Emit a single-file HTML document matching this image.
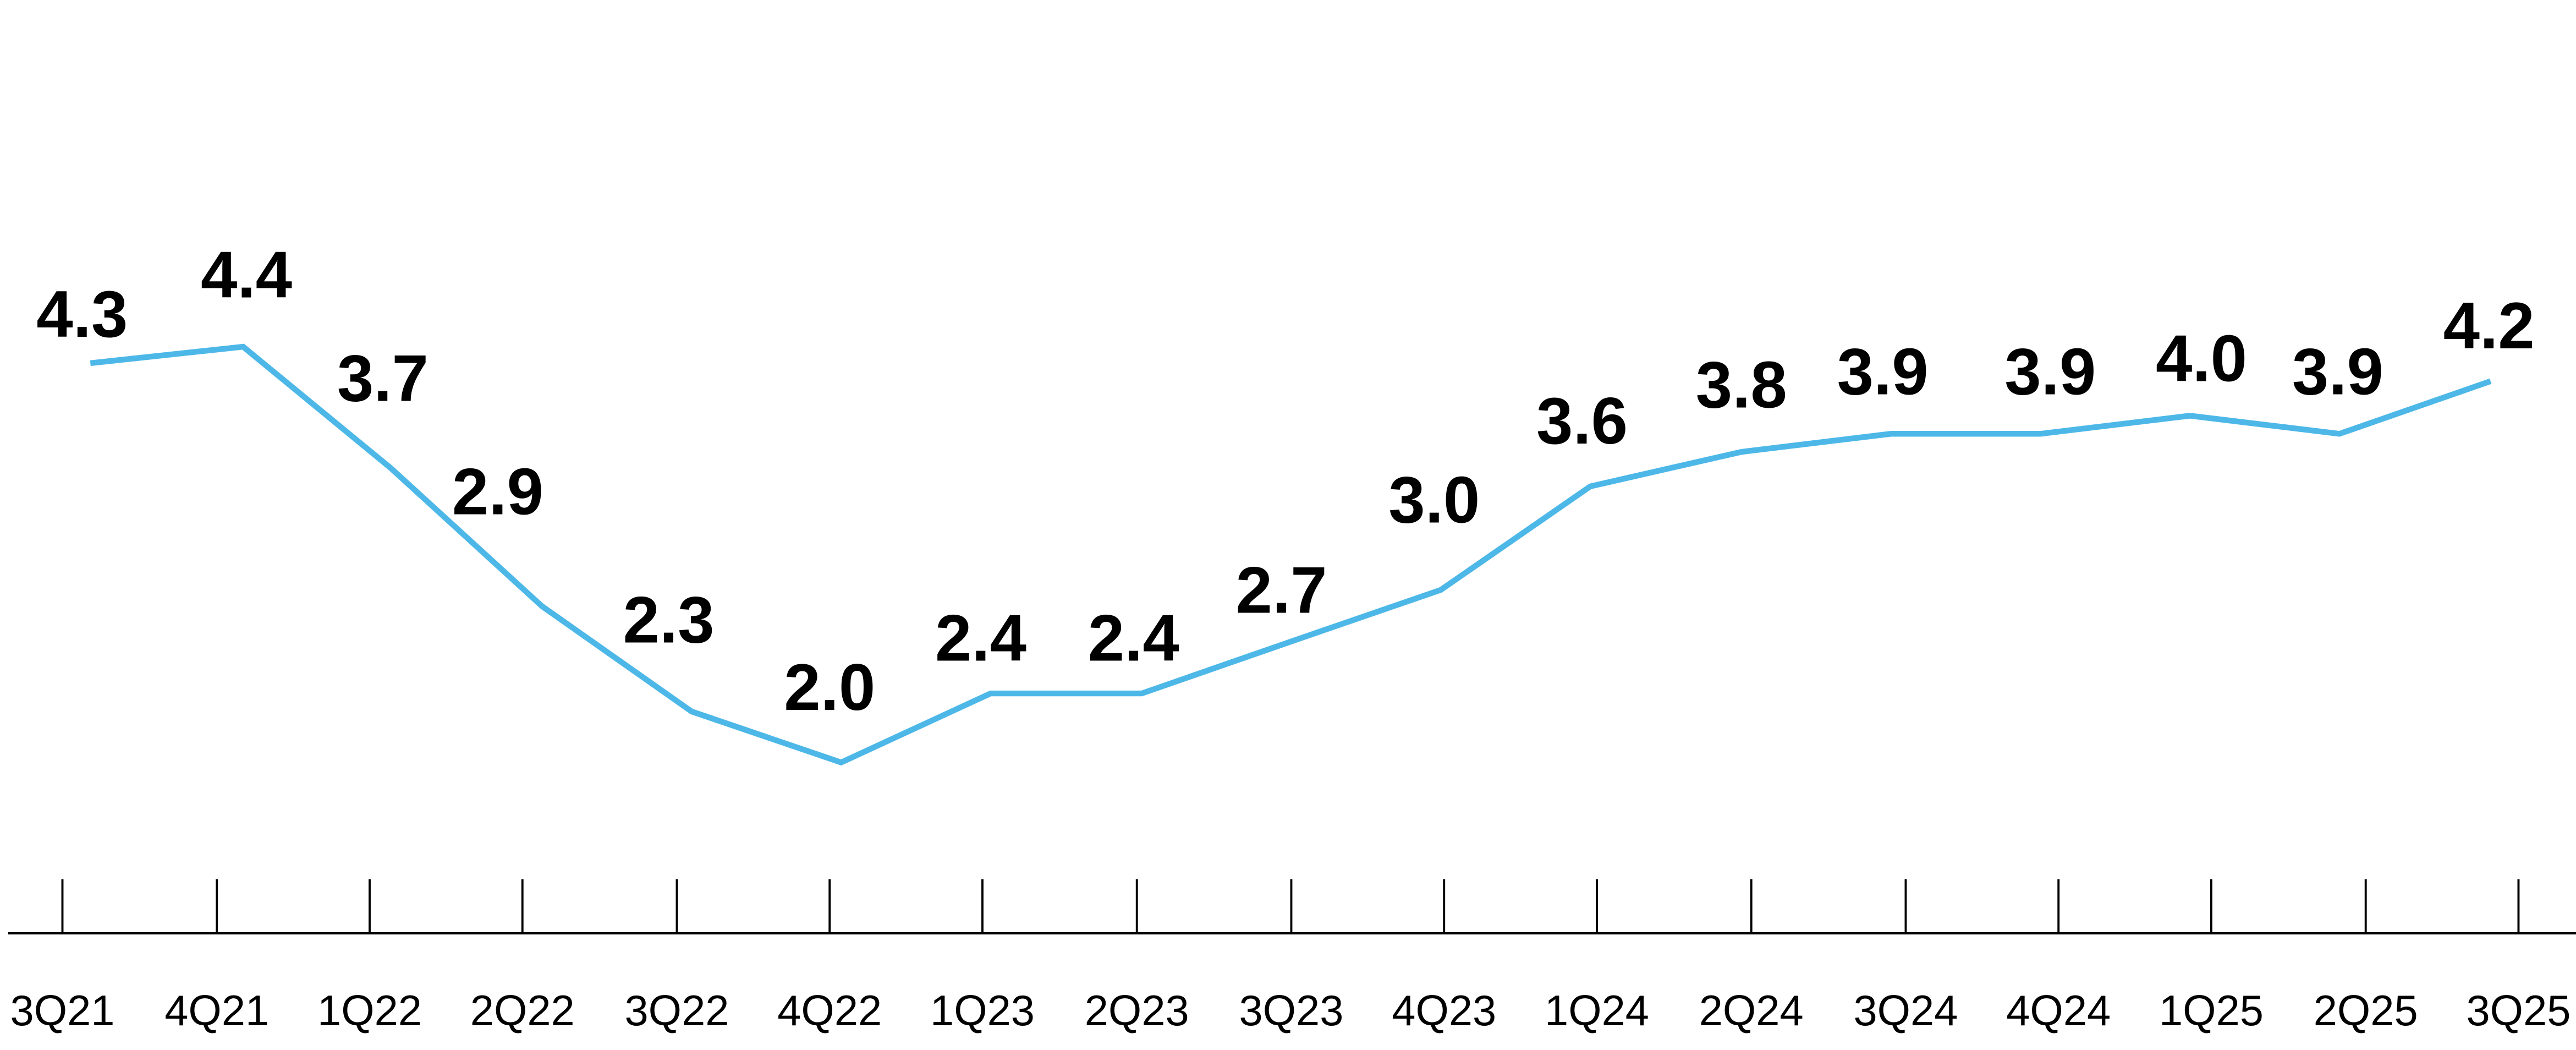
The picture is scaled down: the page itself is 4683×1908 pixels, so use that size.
<!DOCTYPE html>
<html><head><meta charset="utf-8"><style>html,body{margin:0;padding:0;background:#fff}svg{display:block}</style></head>
<body>
<svg width="4683" height="1908" viewBox="0 0 1568 639" preserveAspectRatio="none" xmlns="http://www.w3.org/2000/svg">
<rect width="1568" height="639" fill="#fff"/>
<polyline fill="none" stroke="#4db8e8" stroke-width="3.5" stroke-linejoin="miter" points="55,221 148,211 238,285 330,369 421,433 512,464 603,422 695,422 787,390 877,359 968,296 1060,275 1151,264 1242,264 1333,253 1424,264 1516,232"/>
<line x1="5" y1="568" x2="1568" y2="568" stroke="#000" stroke-width="1.3"/>
<g stroke="#000" stroke-width="1.3">
<line x1="38" y1="535" x2="38" y2="568"/><line x1="132" y1="535" x2="132" y2="568"/><line x1="225" y1="535" x2="225" y2="568"/><line x1="318" y1="535" x2="318" y2="568"/><line x1="412" y1="535" x2="412" y2="568"/><line x1="505" y1="535" x2="505" y2="568"/><line x1="598" y1="535" x2="598" y2="568"/><line x1="692" y1="535" x2="692" y2="568"/><line x1="786" y1="535" x2="786" y2="568"/><line x1="879" y1="535" x2="879" y2="568"/><line x1="972" y1="535" x2="972" y2="568"/><line x1="1066" y1="535" x2="1066" y2="568"/><line x1="1160" y1="535" x2="1160" y2="568"/><line x1="1253" y1="535" x2="1253" y2="568"/><line x1="1346" y1="535" x2="1346" y2="568"/><line x1="1440" y1="535" x2="1440" y2="568"/><line x1="1533" y1="535" x2="1533" y2="568"/>
</g>
<g font-family="Liberation Sans, sans-serif" font-size="26" text-anchor="middle" fill="#000">
<text x="38" y="624">3Q21</text><text x="132" y="624">4Q21</text><text x="225" y="624">1Q22</text><text x="318" y="624">2Q22</text><text x="412" y="624">3Q22</text><text x="505" y="624">4Q22</text><text x="598" y="624">1Q23</text><text x="692" y="624">2Q23</text><text x="786" y="624">3Q23</text><text x="879" y="624">4Q23</text><text x="972" y="624">1Q24</text><text x="1066" y="624">2Q24</text><text x="1160" y="624">3Q24</text><text x="1253" y="624">4Q24</text><text x="1346" y="624">1Q25</text><text x="1440" y="624">2Q25</text><text x="1533" y="624">3Q25</text>
</g>
<g font-family="Liberation Sans, sans-serif" font-size="40" font-weight="bold" text-anchor="middle" fill="#000">
<text x="50" y="205">4.3</text><text x="150" y="181">4.4</text><text x="233" y="244">3.7</text><text x="303" y="313">2.9</text><text x="407" y="391">2.3</text><text x="505" y="432">2.0</text><text x="597" y="402">2.4</text><text x="690" y="402">2.4</text><text x="780" y="373">2.7</text><text x="873" y="318">3.0</text><text x="963" y="270">3.6</text><text x="1060" y="248">3.8</text><text x="1146" y="240">3.9</text><text x="1248" y="240">3.9</text><text x="1340" y="232">4.0</text><text x="1423" y="240">3.9</text><text x="1515" y="212">4.2</text>
</g>
</svg>
</body></html>
